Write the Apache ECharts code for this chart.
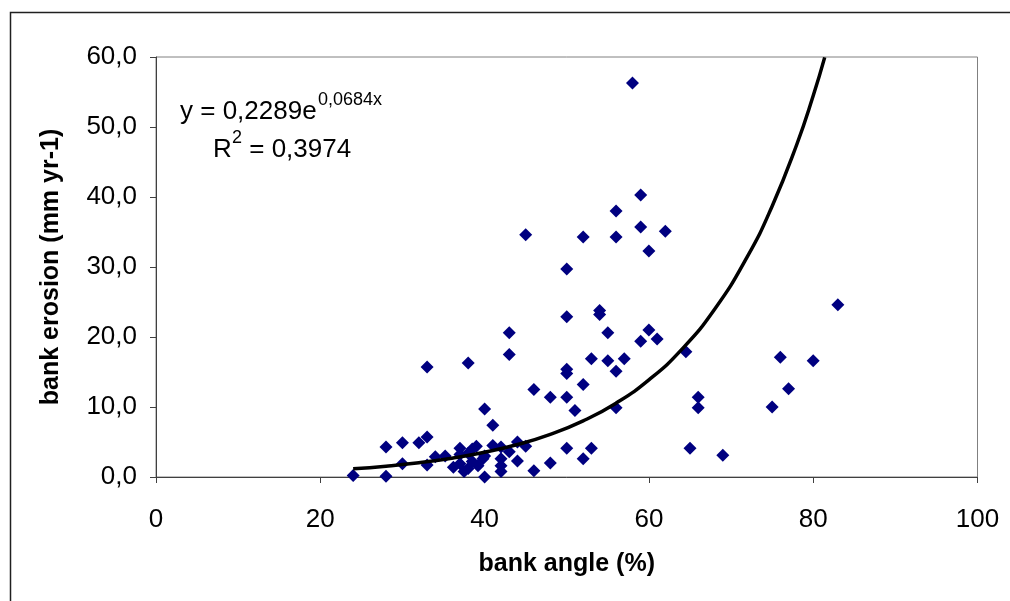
<!DOCTYPE html>
<html>
<head>
<meta charset="utf-8">
<script src="https://cdn.jsdelivr.net/npm/echarts@6/dist/echarts.min.js"></script>
<style>
html,body{margin:0;padding:0;background:#fff;}
#chart{width:1010px;height:601px;}
</style>
</head>
<body>
<div id="chart"></div>
<script>
// bank angle (%) of each observation
var bankAngle = [24,28,28,30,30,32,33,33,33,34,35.2,36.2,37,37,37,37.5,38,38,38,38.5,38.5,39,39.2,39.8,40,40,40,41,41,42,42,42,42,43,43,43,44,44,45,45,46,46,48,48,50,50,50,50,50,50,51,52,52,52,53,53,54,54,55,55,56,56,56,56,57,58,59,59,59,60,60,61,62,64.5,65,66,66,69,75,76,77,80,83];
// bank erosion (mm yr-1) of each observation
var bankErosion = [0.2,0.1,4.3,4.9,1.9,4.9,5.7,15.7,1.7,2.9,3.0,1.4,4.1,3.2,1.9,0.8,16.3,1.2,3.4,2.2,4.0,4.4,1.6,2.6,9.7,3.0,0.0,7.4,4.5,4.3,2.6,1.6,0.8,17.5,20.6,3.6,5.0,2.3,4.4,34.6,12.5,0.9,11.4,2.0,29.7,22.9,15.4,14.8,11.4,4.1,9.5,34.3,13.2,2.6,16.9,4.1,23.8,23.2,20.6,16.6,38.0,34.3,15.1,9.9,16.9,56.3,40.3,35.7,19.4,32.3,21.0,19.7,35.1,17.9,4.1,11.4,9.9,3.1,10.0,17.1,12.6,16.6,24.6];
// exponential trend line
var trendX = [24,28,32,36,40,44,48,52,56,60,64,68,72,75,78,80,81.4];
var trendY = [1.18,1.55,2.04,2.69,3.53,4.64,6.10,8.02,10.55,13.87,18.23,23.97,31.52,38.69,47.50,54.46,59.95];
var xTicks = [0,20,40,60,80,100];
var yTicks = [0,10,20,30,40,50,60];
var equationText = 'y = 0,2289e';
var equationExp = '0,0684x';
var r2Label = 'R';
var r2Exp = '2';
var r2Value = ' = 0,3974';
var xTitle = 'bank angle (%)';
var yTitle = 'bank erosion (mm yr-1)';

var scatterData = bankAngle.map(function(x,i){return [x, bankErosion[i]];});
var trendData = trendX.map(function(x,i){return [x, trendY[i]];});

var FONT = '"Liberation Sans", Arial, sans-serif';
var chart = echarts.init(document.getElementById('chart'), null, {renderer:'canvas'});
chart.setOption({
  backgroundColor:'#fff',
  animation:false,
  grid:{left:156, right:32.5, top:57, bottom:124, show:true, borderColor:'#808080', borderWidth:1, backgroundColor:'transparent'},
  xAxis:{
    type:'value', min:xTicks[0], max:xTicks[xTicks.length-1], interval:xTicks[1]-xTicks[0],
    name:xTitle, nameLocation:'middle', nameGap:75,
    nameTextStyle:{fontFamily:FONT, fontSize:25, fontWeight:'bold', color:'#000'},
    axisLine:{lineStyle:{color:'#404040', width:1}},
    axisTick:{show:true, inside:false, length:6, lineStyle:{color:'#404040'}},
    axisLabel:{margin:30, fontFamily:FONT, fontSize:26, color:'#000'},
    splitLine:{show:false}
  },
  yAxis:{
    type:'value', min:yTicks[0], max:yTicks[yTicks.length-1], interval:yTicks[1]-yTicks[0],
    name:yTitle, nameLocation:'middle', nameGap:92, nameRotate:90,
    nameTextStyle:{fontFamily:FONT, fontSize:25, fontWeight:'bold', color:'#000'},
    axisLine:{show:true, lineStyle:{color:'#404040', width:1}},
    axisTick:{show:true, inside:false, length:6, lineStyle:{color:'#404040'}},
    axisLabel:{margin:19, fontFamily:FONT, fontSize:26, color:'#000',
      formatter:function(v){return v.toFixed(1).replace('.',',');}},
    splitLine:{show:false}
  },
  series:[
    {type:'scatter', data:scatterData, symbol:'diamond', symbolSize:13,
     itemStyle:{color:'#000080', opacity:1}, z:2},
    {type:'line', data:trendData, smooth:true, showSymbol:false, symbol:'none',
     lineStyle:{color:'#000', width:3.5}, z:3, clip:true}
  ],
  graphic:[
    {type:'rect', shape:{x:10.5, y:12.5, width:1100, height:700}, style:{fill:'none', stroke:'#202020', lineWidth:1.5}, silent:true},
    {type:'text', left:180, top:99, style:{text:equationText, font:'26px '+FONT, fill:'#000'}},
    {type:'text', left:318, top:91, style:{text:equationExp, font:'18px '+FONT, fill:'#000'}},
    {type:'text', left:213, top:137, style:{text:r2Label, font:'26px '+FONT, fill:'#000'}},
    {type:'text', left:232, top:129, style:{text:r2Exp, font:'18px '+FONT, fill:'#000'}},
    {type:'text', left:242, top:137, style:{text:r2Value, font:'26px '+FONT, fill:'#000'}}
  ]
});
</script>
</body>
</html>
